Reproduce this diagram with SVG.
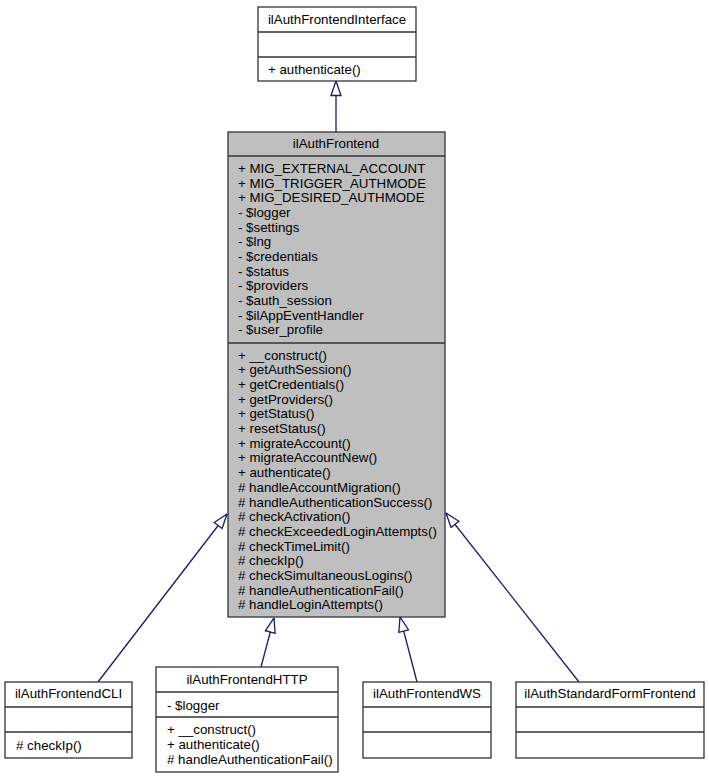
<svg xmlns="http://www.w3.org/2000/svg" width="709" height="779" viewBox="0 0 709 779">
<defs>
<style>
text{font-family:"Liberation Sans",Arial,sans-serif;font-size:13.3px;fill:#000}
.c{text-anchor:middle}
.box{fill:#fff;stroke:#333;stroke-width:1.3}
.main{fill:#bfbfbf;stroke:#333;stroke-width:1.3}
.div{stroke:#333;stroke-width:1.3}
.edge{stroke:#191970;stroke-width:1.3;fill:none;marker-end:url(#tri)}
</style>
<marker id="tri" viewBox="0 0 16 12" refX="15.5" refY="6" markerWidth="16" markerHeight="12" markerUnits="userSpaceOnUse" orient="auto">
<path d="M1,1 L15.5,6 L1,11 Z" fill="#fff" stroke="#191970" stroke-width="1.3"/>
</marker>
</defs>
<rect width="709" height="779" fill="#fff"/>
<g id="connectors">
<line class="edge" x1="336" y1="132" x2="336" y2="81"/>
<line class="edge" x1="98" y1="682" x2="227" y2="514"/>
<line class="edge" x1="261" y1="667" x2="274" y2="618"/>
<line class="edge" x1="417" y1="682" x2="400" y2="617"/>
<line class="edge" x1="579" y1="682" x2="446" y2="513"/>
</g>
<g id="ilAuthFrontendInterface">
<rect class="box" x="258" y="7" width="158" height="74"/>
<line class="div" x1="258" y1="32" x2="416" y2="32"/>
<line class="div" x1="258" y1="57" x2="416" y2="57"/>
<text class="c" x="337" y="24">ilAuthFrontendInterface</text>
<text x="268" y="74">+ authenticate()</text>
</g>
<g id="ilAuthFrontend">
<rect class="main" x="228" y="132" width="217" height="485"/>
<line class="div" x1="228" y1="156" x2="445" y2="156"/>
<line class="div" x1="228" y1="343" x2="445" y2="343"/>
<text class="c" x="336" y="148">ilAuthFrontend</text>
<text x="238" y="173">+ MIG_EXTERNAL_ACCOUNT</text>
<text x="238" y="187.6">+ MIG_TRIGGER_AUTHMODE</text>
<text x="238" y="202.3">+ MIG_DESIRED_AUTHMODE</text>
<text x="238" y="216.9">- $logger</text>
<text x="238" y="231.6">- $settings</text>
<text x="238" y="246.2">- $lng</text>
<text x="238" y="260.9">- $credentials</text>
<text x="238" y="275.5">- $status</text>
<text x="238" y="290.2">- $providers</text>
<text x="238" y="304.8">- $auth_session</text>
<text x="238" y="319.5">- $ilAppEventHandler</text>
<text x="238" y="334.1">- $user_profile</text>
<text x="238" y="359.5">+ __construct()</text>
<text x="238" y="374.2">+ getAuthSession()</text>
<text x="238" y="388.9">+ getCredentials()</text>
<text x="238" y="403.6">+ getProviders()</text>
<text x="238" y="418.3">+ getStatus()</text>
<text x="238" y="433">+ resetStatus()</text>
<text x="238" y="447.7">+ migrateAccount()</text>
<text x="238" y="462.4">+ migrateAccountNew()</text>
<text x="238" y="477.1">+ authenticate()</text>
<text x="238" y="491.8"># handleAccountMigration()</text>
<text x="238" y="506.5"># handleAuthenticationSuccess()</text>
<text x="238" y="521.2"># checkActivation()</text>
<text x="238" y="535.9"># checkExceededLoginAttempts()</text>
<text x="238" y="550.6"># checkTimeLimit()</text>
<text x="238" y="565.3"># checkIp()</text>
<text x="238" y="580"># checkSimultaneousLogins()</text>
<text x="238" y="594.7"># handleAuthenticationFail()</text>
<text x="238" y="609.4"># handleLoginAttempts()</text>
</g>
<g id="ilAuthFrontendCLI">
<rect class="box" x="5" y="682" width="127" height="76"/>
<line class="div" x1="5" y1="707" x2="132" y2="707"/>
<line class="div" x1="5" y1="732" x2="132" y2="732"/>
<text class="c" x="68.5" y="698">ilAuthFrontendCLI</text>
<text x="16" y="750"># checkIp()</text>
</g>
<g id="ilAuthFrontendHTTP">
<rect class="box" x="156" y="667" width="182" height="105"/>
<line class="div" x1="156" y1="692" x2="338" y2="692"/>
<line class="div" x1="156" y1="717" x2="338" y2="717"/>
<text class="c" x="247" y="684">ilAuthFrontendHTTP</text>
<text x="167" y="710">- $logger</text>
<text x="167" y="734">+ __construct()</text>
<text x="167" y="749">+ authenticate()</text>
<text x="167" y="764"># handleAuthenticationFail()</text>
</g>
<g id="ilAuthFrontendWS">
<rect class="box" x="363" y="682" width="128" height="76"/>
<line class="div" x1="363" y1="707" x2="491" y2="707"/>
<line class="div" x1="363" y1="732" x2="491" y2="732"/>
<text class="c" x="427" y="698">ilAuthFrontendWS</text>
</g>
<g id="ilAuthStandardFormFrontend">
<rect class="box" x="516" y="682" width="188" height="76"/>
<line class="div" x1="516" y1="707" x2="704" y2="707"/>
<line class="div" x1="516" y1="732" x2="704" y2="732"/>
<text class="c" x="610" y="698">ilAuthStandardFormFrontend</text>
</g>
</svg>
